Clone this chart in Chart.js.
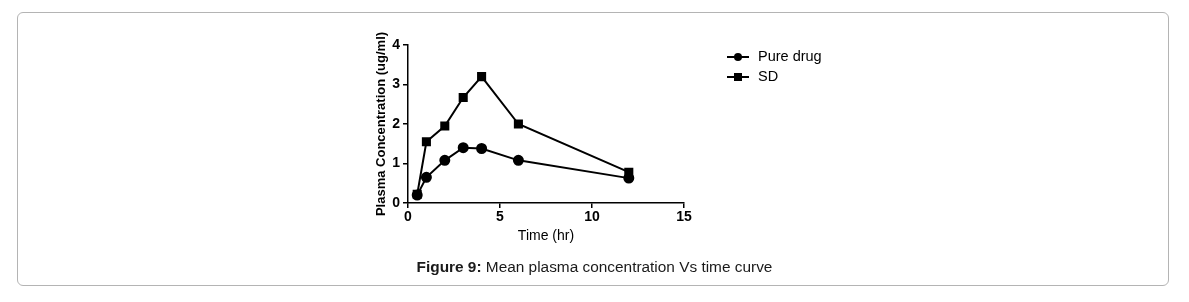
<!DOCTYPE html>
<html>
<head>
<meta charset="utf-8">
<script src="https://cdn.jsdelivr.net/npm/chart.js@4"></script>
<style>
  html, body { margin: 0; padding: 0; background: #fff; }
  body { width: 1189px; height: 302px; position: relative; overflow: hidden; font-family: "Liberation Sans", Arial, sans-serif; }
  .frame { position: absolute; left: 17px; top: 12px; width: 1150px; height: 272px; border: 1.5px solid #b4b4b4; border-radius: 6px; }
  #wrap { position: absolute; left: 0; top: 0; width: 1189px; height: 302px; }
  .caption { position: absolute; left: 0; width: 1189px; top: 258px; text-align: center; font-size: 15.4px; color: #1a1a1a; }
</style>
</head>
<body>
<div class="frame"></div>
<div id="wrap"><canvas id="chart"></canvas></div>
<div class="caption"><b>Figure 9:</b> Mean plasma concentration Vs time curve</div>
<script>
// sampling times (hr)
const times = [0.5, 1, 2, 3, 4, 6, 12];
// mean plasma concentration (ug/ml)
const pureDrug = [0.2, 0.65, 1.08, 1.4, 1.38, 1.08, 0.63];
const sd = [0.22, 1.55, 1.95, 2.67, 3.2, 2.0, 0.78];
const seriesNames = ['Pure drug', 'SD'];
const xTicks = [0, 5, 10, 15];
const yTicks = [0, 1, 2, 3, 4];

const toPoints = (vals) => vals.map((v, i) => ({ x: times[i], y: v }));

// legend drawn at the right of the plot, like the original figure
const sideLegend = {
  id: 'sideLegend',
  afterDraw(chart) {
    const { ctx } = chart;
    const x0 = 727;
    const rows = [57, 77];
    ctx.save();
    chart.data.datasets.forEach((ds, i) => {
      const y = rows[i];
      ctx.strokeStyle = '#000';
      ctx.lineWidth = 2;
      ctx.beginPath();
      ctx.moveTo(x0, y);
      ctx.lineTo(x0 + 22, y);
      ctx.stroke();
      ctx.fillStyle = '#000';
      if (ds.pointStyle === 'rect') {
        ctx.fillRect(x0 + 7, y - 4, 8, 8);
      } else {
        ctx.beginPath();
        ctx.arc(x0 + 11, y, 4, 0, Math.PI * 2);
        ctx.fill();
      }
      ctx.font = '14.5px "Liberation Sans", Arial, sans-serif';
      ctx.textBaseline = 'middle';
      ctx.fillText(ds.label, x0 + 31, y);
    });
    ctx.restore();
  },
};

const axisFont = { family: '"Liberation Sans", Arial, sans-serif', size: 14, weight: 'bold' };

new Chart(document.getElementById('chart'), {
  type: 'line',
  plugins: [sideLegend],
  data: {
    datasets: [
      {
        label: seriesNames[0],
        data: toPoints(pureDrug),
        borderColor: '#000',
        backgroundColor: '#000',
        borderWidth: 2,
        pointStyle: 'circle',
        pointRadius: 4.5,
        tension: 0,
      },
      {
        label: seriesNames[1],
        data: toPoints(sd),
        borderColor: '#000',
        backgroundColor: '#000',
        borderWidth: 2,
        pointStyle: 'rect',
        pointRadius: 5,
        tension: 0,
      },
    ],
  },
  options: {
    responsive: true,
    maintainAspectRatio: false,
    animation: false,
    layout: { padding: { left: 374, right: 505, top: 45, bottom: 53 } },
    plugins: {
      legend: { display: false },
      tooltip: { enabled: false },
    },
    scales: {
      x: {
        type: 'linear',
        min: 0,
        max: 15,
        afterBuildTicks: (scale) => { scale.ticks = xTicks.map((v) => ({ value: v })); },
        afterFit: (scale) => { scale.height = 46; },
        border: { color: '#000', width: 1.5 },
        grid: { drawOnChartArea: false, drawTicks: true, tickLength: 5, color: '#000', lineWidth: 1.5 },
        ticks: { color: '#000', font: axisFont, padding: 1, maxRotation: 0 },
        title: { display: true, text: 'Time (hr)', color: '#000', font: { family: axisFont.family, size: 14 }, padding: { top: 6 } },
      },
      y: {
        type: 'linear',
        min: 0,
        max: 4,
        afterBuildTicks: (scale) => { scale.ticks = yTicks.map((v) => ({ value: v })); },
        afterFit: (scale) => { scale.width = 34; },
        border: { color: '#000', width: 1.5 },
        grid: { drawOnChartArea: false, drawTicks: true, tickLength: 5, color: '#000', lineWidth: 1.5 },
        ticks: { color: '#000', font: axisFont, padding: 3 },
        title: { display: true, text: 'Plasma Concentration (ug/ml)', color: '#000', font: { ...axisFont, size: 13 }, padding: 0 },
      },
    },
  },
});
</script>
</body>
</html>
